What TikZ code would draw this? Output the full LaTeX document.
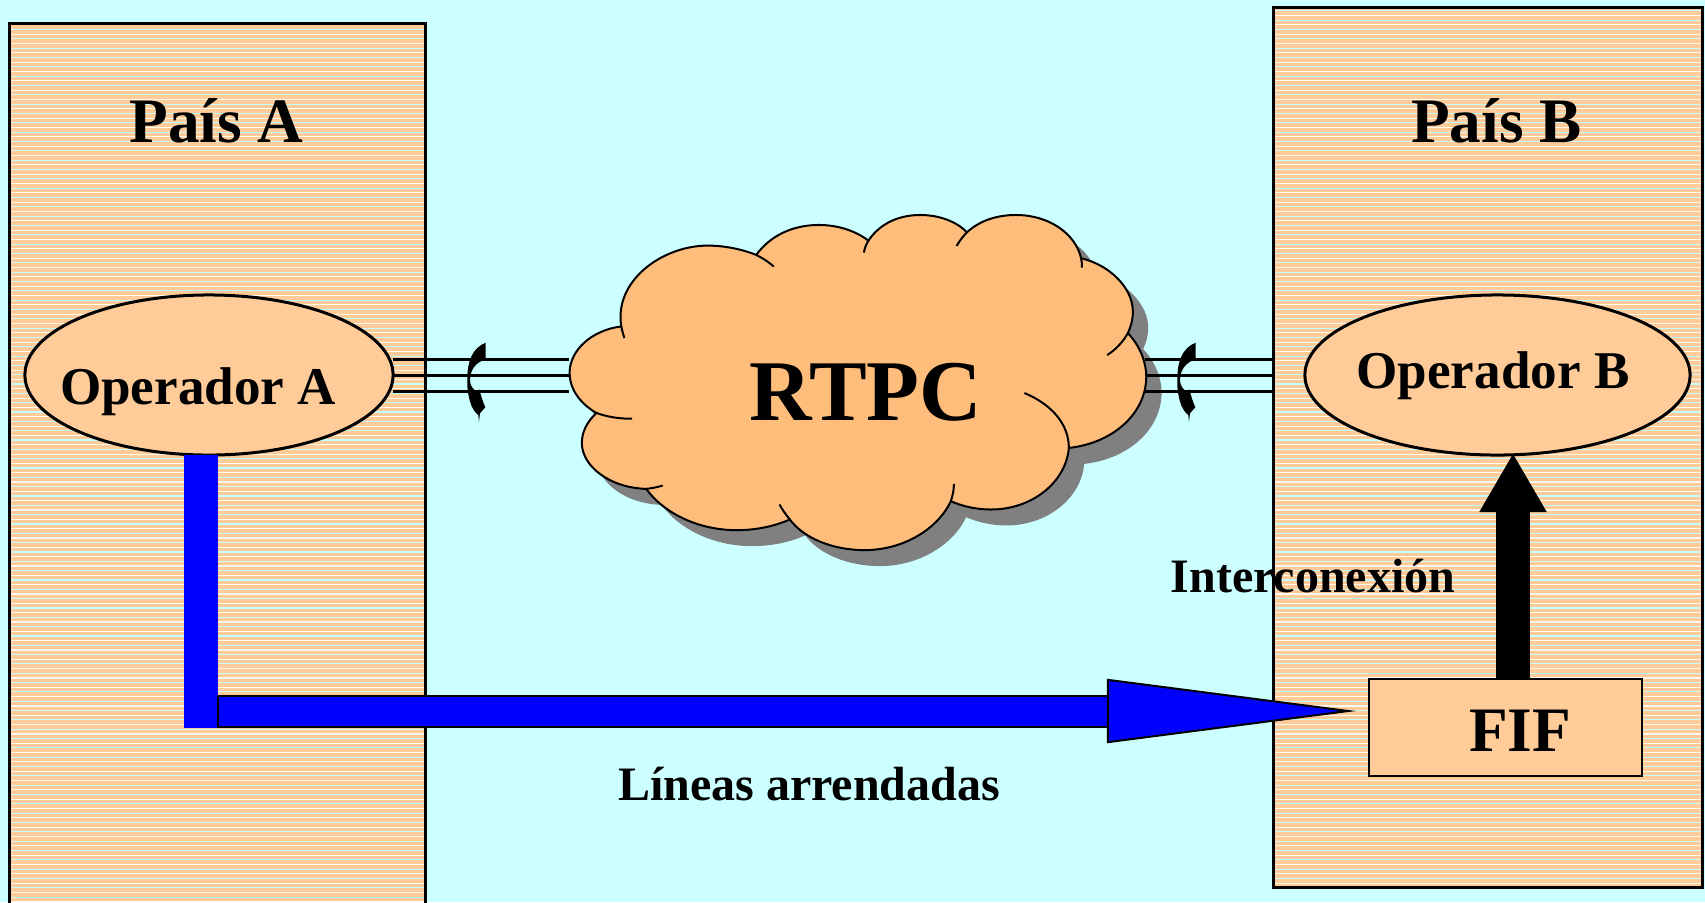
\documentclass[tikz,border=0pt]{standalone}
\usepackage{fontspec}
\setmainfont{Liberation Serif}
\usetikzlibrary{shapes.geometric, arrows.meta}
\definecolor{seaBack}{HTML}{CCFFFF}
\definecolor{peach}{HTML}{FFCC99}
\definecolor{cloudPeach}{HTML}{FFBD7B}
\definecolor{stripeCyan}{HTML}{C4FFFF}
\definecolor{stripeWhite}{HTML}{FFFBEE}
\definecolor{cloudShadow}{HTML}{808080}
\tikzset{
	countryBox/.style={draw=black, line width=0.03cm},
	operatorEllipse/.style={ellipse, draw=black, fill=peach, line width=0.03cm, inner sep=0pt},
	fifBox/.style={rectangle, draw=black, fill=peach, line width=0.02cm, inner sep=0pt},
	trunkLine/.style={draw=black, line width=0.03cm},
	bluePipe/.style={draw=blue, line width=0.34cm},
	blueEdge/.style={draw=black, line width=0.33cm},
	blueArrow/.style={draw=blue, line width=0.29cm, -{Triangle[length=2.49cm, width=0.64cm, fill=blue, color=black, line width=0.02cm]}},
	blackArrow/.style={draw=black, line width=0.34cm, -{Triangle[length=0.59cm, width=0.63cm]}},
	label/.style={font=\bfseries, inner sep=0pt}
}
\newcommand{\myfontcountry}[1]{\fontsize{18}{20}\selectfont{#1}}
\newcommand{\myfontoperator}[1]{\fontsize{15.1}{18}\selectfont{#1}}
\newcommand{\myfontnote}[1]{\fontsize{13.65}{16}\selectfont{#1}}
\newcommand{\myfontcloud}[1]{\fontsize{24.6}{28}\selectfont{#1}}
\newcommand{\stripes}[2]{
	\begin{scope}
		\clip (#1,0) rectangle (#2,902);
		\fill[peach] (#1,0) rectangle (#2,902);
		\foreach \i in {0,...,97} {
			\draw[stripeCyan, line width=0.011cm] (#1,{1.5+9.33*\i}) -- (#2,{1.5+9.33*\i});
			\draw[stripeWhite, line width=0.011cm] (#1,{6.2+9.33*\i}) -- (#2,{6.2+9.33*\i});
		}
	\end{scope}
}
\newcommand{\phonehandle}[1]{
	\fill[black, shift={(#1,0)}] (485.7,342.7) -- (485.7,359.3) .. controls (476,362) and (470,370) .. (470,380)
		.. controls (470,386) and (473,389) .. (476.7,391.7) -- (479.3,389.3)
		.. controls (481,396) and (483,402) .. (485.3,407.3) -- (480,413.3) -- (479,421.7) -- (478.3,415)
		.. controls (472,410) and (470,403) .. (468.5,395) .. controls (467,388) and (467.3,384) .. (467.3,378)
		.. controls (467.5,362) and (472,348) .. (485.7,342.7) -- cycle;
}
\newcommand{\cloudoutline}{
	(160,380) .. controls (140,240) and (270,137) .. (385,137) .. controls (430,137) and (475,148) .. (512,165)
	.. controls (550,105) and (610,75) .. (675,75) .. controls (725,75) and (770,92) .. (805,122)
	.. controls (835,70) and (885,45) .. (940,45) .. controls (990,45) and (1035,65) .. (1062,97)
	.. controls (1095,62) and (1140,45) .. (1190,45) .. controls (1275,45) and (1345,100) .. (1360,175)
	.. controls (1435,195) and (1495,265) .. (1495,335) .. controls (1495,360) and (1490,380) .. (1482,400)
	.. controls (1515,440) and (1530,490) .. (1530,530) .. controls (1530,640) and (1445,730) .. (1328,745)
	.. controls (1320,850) and (1230,930) .. (1125,930) .. controls (1085,930) and (1050,920) .. (1020,905)
	.. controls (985,990) and (895,1052) .. (795,1052) .. controls (710,1052) and (635,1015) .. (600,960)
	.. controls (555,982) and (510,992) .. (460,992) .. controls (360,992) and (270,940) .. (225,868)
	.. controls (130,865) and (57,800) .. (57,730) .. controls (57,695) and (72,665) .. (95,640)
	.. controls (50,610) and (25,565) .. (25,520) .. controls (25,450) and (85,390) .. (160,380) -- cycle
}
\begin{document}
\begin{tikzpicture}[x=0.01cm, y=-0.01cm]
	\useasboundingbox (0,0) rectangle (1705,902);
	\clip (0,0) rectangle (1705,902);
	%Background
	\fill[seaBack] (0,0) rectangle (1705,902);
	%Left country
	\begin{scope}
		\clip (9.5,23) rectangle (425,920);
		\stripes{9.5}{425}
	\end{scope}
	\draw[countryBox] (9.5,23) rectangle (425,920);
	%Right country
	\begin{scope}
		\clip (1273,7) rectangle (1702,887);
		\stripes{1273}{1702}
	\end{scope}
	\draw[countryBox] (1273,7) rectangle (1702,887);
	%The cloud
	\begin{scope}[shift={(560,200)}, x=0.003827cm, y=-0.003333cm]
		\fill[cloudShadow, shift={(40,48)}] \cloudoutline;
	\end{scope}
	%Trunk lines on both sides of the cloud
	\foreach \y in {359,375,391} {
		\coordinate (leftA\y) at (393,\y);
		\coordinate (leftB\y) at (569,\y);
		\coordinate (rightA\y) at (1145,\y);
		\coordinate (rightB\y) at (1273,\y);
		\draw[trunkLine] (leftA\y) -- (leftB\y);
		\draw[trunkLine] (rightA\y) -- (rightB\y);
	}
	%Handsets
	\phonehandle{0}
	\phonehandle{710}
	%Operators
	\node [operatorEllipse, minimum width=3.68cm, minimum height=1.6cm] (opA) at (209,375) {};
	\node [operatorEllipse, minimum width=3.85cm, minimum height=1.6cm] (opB) at (1497.5,375) {};
	%The cloud
	\begin{scope}[shift={(560,200)}, x=0.003827cm, y=-0.003333cm]
		\draw[fill=cloudPeach, line width=0.02cm] \cloudoutline;
		\draw[line width=0.02cm] (512,165) .. controls (530,175) and (545,187) .. (558,200);
		\draw[line width=0.02cm] (160,380) .. controls (162,392) and (165,404) .. (168,415);
		\draw[line width=0.02cm] (805,122) .. controls (799,133) and (795,145) .. (793,158);
		\draw[line width=0.02cm] (1062,97) .. controls (1051,110) and (1042,124) .. (1035,138);
		\draw[line width=0.02cm] (1360,175) .. controls (1362,184) and (1362,194) .. (1362,203);
		\draw[line width=0.02cm] (1482,400) .. controls (1470,425) and (1452,448) .. (1428,466);
		\draw[line width=0.02cm] (1328,745) .. controls (1328,675) and (1285,615) .. (1212,580);
		\draw[line width=0.02cm] (1020,905) .. controls (1025,888) and (1028,870) .. (1028,853);
		\draw[line width=0.02cm] (600,960) .. controls (590,946) and (580,931) .. (573,915);
		\draw[line width=0.02cm] (225,868) .. controls (240,866) and (254,863) .. (268,858);
		\draw[line width=0.02cm] (95,640) .. controls (122,651) and (155,658) .. (188,657);
	\end{scope}
	%Blue leased line
	\coordinate (pipeTop) at (201,455);
	\coordinate (pipeCorner) at (201,728);
	\coordinate (shaftStart) at (217,711);
	\coordinate (shaftInner) at (219,711);
	\coordinate (shaftEnd) at (1108,711);
	\coordinate (shaftTip) at (1356,711);
	\draw[bluePipe] (pipeTop) -- (pipeCorner);
	\draw[blueEdge] (shaftStart) -- (shaftEnd);
	\draw[blueArrow] (shaftInner) -- (shaftTip);
	%FIF and the interconnection
	\node [fifBox, minimum width=2.73cm, minimum height=0.97cm] (fif) at (1505.5,727.5) {};
	\coordinate (blackStart) at (1513,679);
	\coordinate (blackTip) at (1513,453);
	\draw[blackArrow] (blackStart) -- (blackTip);
	%Texts
	\node [label] (paisA) at (216.5,121) {\myfontcountry{País A}};
	\node [label] (paisB) at (1496.5,121) {\myfontcountry{País B}};
	\node [label] (textOpA) at (198,392) {\myfontoperator{Operador A}};
	\node [label] (textOpB) at (1493,376) {\myfontoperator{Operador B}};
	\node [label] (rtpc) at (866,392) {\myfontcloud{RTPC}};
	\node [label] (interconexion) at (1313,576) {\myfontnote{Interconexión}};
	\node [label] (lineas) at (809,784) {\myfontnote{Líneas arrendadas}};
	\node [label] (textFif) at (1520,731) {\myfontcountry{FIF}};
\end{tikzpicture}
\end{document}
